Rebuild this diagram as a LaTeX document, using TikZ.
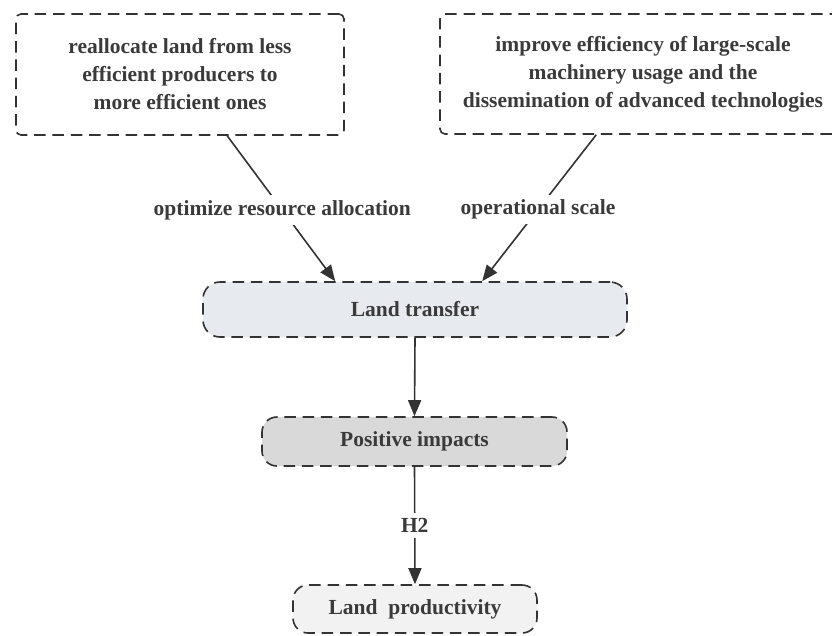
\documentclass[tikz,border=0pt]{standalone}
\usepackage{fontspec}
\setmainfont{Liberation Serif}
\usetikzlibrary{arrows.meta,calc}
\definecolor{txt}{HTML}{3A3A3A}
\definecolor{edge}{HTML}{333333}
\definecolor{ltfill}{HTML}{E7EAEE}
\definecolor{pifill}{HTML}{D9D9D9}
\definecolor{lpfill}{HTML}{F2F2F2}
\tikzset{
  base/.style={draw=edge, line width=1.6pt, dash pattern=on 11.5pt off 6.8pt, text=txt,
    font=\fontsize{21.5}{28}\selectfont\bfseries, align=center, inner sep=0pt},
  topbox/.style={base, rounded corners=5pt},
  pill/.style={base, rounded corners=17pt},
  conn/.style={draw=edge, line width=1.6pt, -{Triangle[length=16pt,width=13pt]}},
  plain/.style={draw=edge, line width=1.6pt},
  lbl/.style={fill=white, text=txt, font=\fontsize{21.5}{28}\selectfont\bfseries, inner sep=5pt}
}
\begin{document}
\begin{tikzpicture}[x=1pt,y=-1pt]
\useasboundingbox (0,0) rectangle (832,635);
\begin{scope}
\clip (0,0) rectangle (832,635);
\node[topbox, minimum width=328pt, minimum height=121pt] (b1) at (180,74.5)
  {reallocate land from less\\efficient producers to\\more efficient ones};
\node[topbox, minimum width=406pt, minimum height=120pt] (b2) at (643,74)
  {improve efficiency of large-scale\\machinery usage and the\\dissemination of advanced technologies};
\node[pill, fill=ltfill, minimum width=424pt, minimum height=55pt] (lt) at (415,309.5) {Land transfer};
\node[pill, fill=pifill, minimum width=305pt, minimum height=49pt, rounded corners=15pt] (pi) at (414.5,441.5) {Positive impacts};
\node[pill, fill=lpfill, minimum width=244pt, minimum height=48pt, rounded corners=15pt] (lp) at (415,609) {Land\ \ productivity};
\end{scope}
\coordinate (s1) at ([xshift=212pt]b1.south west);
\coordinate (e1) at ([xshift=133pt]lt.north west);
\coordinate (s2) at ([xshift=157pt]b2.south west);
\coordinate (e2) at ([xshift=280pt]lt.north west);
\draw[conn] (s1) -- node[lbl, pos=0.51] (l1) {optimize resource allocation} (e1);
\draw[conn] (s2) -- node[lbl, pos=0.51] (l2) {operational scale} (e2);
\draw[conn] (lt.south) -- (pi.north);
\draw[conn] (pi.south) -- node[lbl, pos=0.5] (h2) {H2} (lp.north);
\end{tikzpicture}
\end{document}
